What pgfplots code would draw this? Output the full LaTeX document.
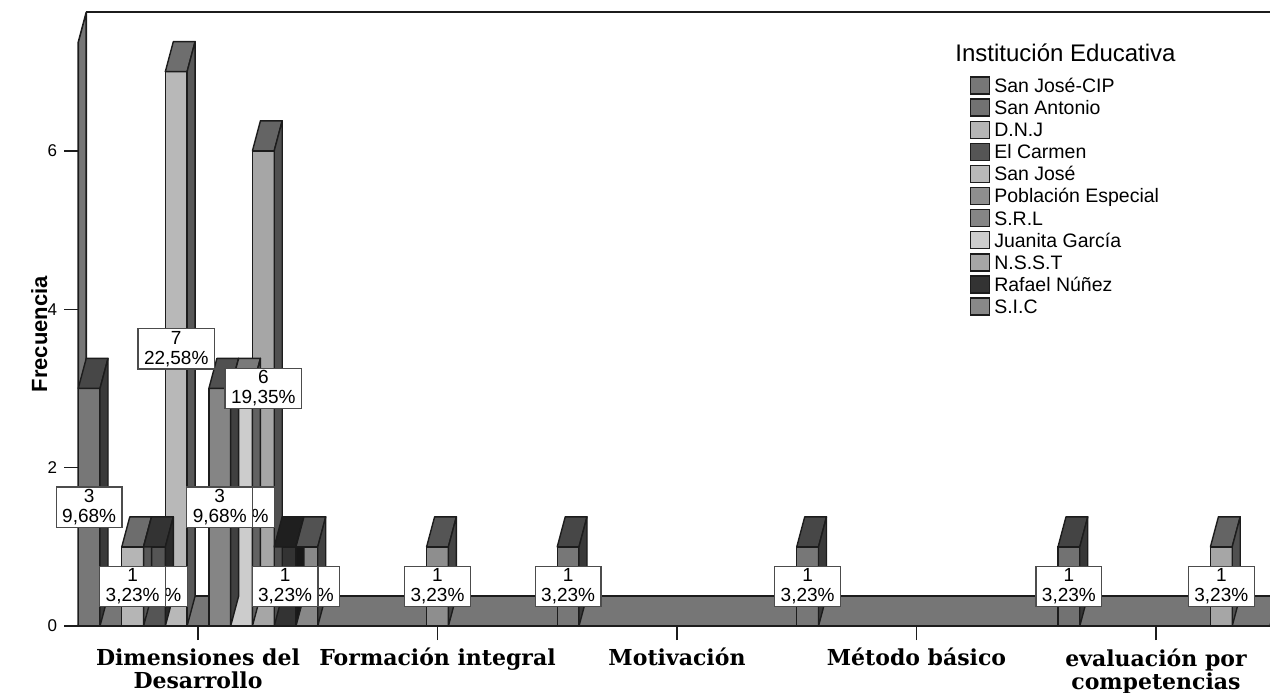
\documentclass[border=0pt]{standalone}
\usepackage{pgfplots}
\pgfplotsset{compat=1.18}
\usepackage{pgfplotstable}
\usepackage{fontspec}
\setmainfont{Liberation Sans}
\newfontfamily\catfont{DejaVu Serif}

% fill colours of the eleven institutions
\definecolor{cA}{HTML}{777777}
\definecolor{cB}{HTML}{727272}
\definecolor{cC}{HTML}{B5B5B5}
\definecolor{cD}{HTML}{555555}
\definecolor{cE}{HTML}{B8B8B8}
\definecolor{cF}{HTML}{8E8E8E}
\definecolor{cG}{HTML}{858585}
\definecolor{cH}{HTML}{CCCCCC}
\definecolor{cI}{HTML}{A6A6A6}
\definecolor{cJ}{HTML}{333333}
\definecolor{cK}{HTML}{888888}
\definecolor{floorgray}{HTML}{767676}
\definecolor{edge}{HTML}{1C1C1C}

% geometry of the 3-D bars
\def\hw{5.443pt}   % half bar width
\def\dx{4pt}       % depth offset, horizontal
\def\dy{15pt}      % depth offset, vertical
\def\yu{39.6pt}    % length of one count
\def\total{31}     % number of answers

% frequencies per institution (c = category index, v = count)
\pgfplotstableread{
c v
0 3
2 1
3 1
}\tA
\pgfplotstableread{
c v
4 1
}\tB
\pgfplotstableread{
c v
0 1
}\tC
\pgfplotstableread{
c v
0 1
}\tD
\pgfplotstableread{
c v
0 7
}\tE
\pgfplotstableread{
c v
1 1
}\tF
\pgfplotstableread{
c v
0 3
}\tG
\pgfplotstableread{
c v
0 3
}\tH
\pgfplotstableread{
c v
0 6
4 1
}\tI
\pgfplotstableread{
c v
0 1
}\tJ
\pgfplotstableread{
c v
0 1
}\tK

\pgfplotsset{
  /pgf/number format/assume math mode=true,
  front/.style={ybar, bar width=0.0909091, bar shift=0pt, fill=#1, draw=edge, line width=0.7pt,
    legend image code/.code={\draw[fill=#1, draw=edge, line width=0.7pt] (0pt,-2.9pt) rectangle (9.5pt,5.6pt);}},
  faces/.style={forget plot, only marks, scatter, mark=*, mark size=0pt,
    mark options={draw=none, fill=none},
    visualization depends on={\thisrow{v} \as \barv},
    scatter/@pre marker code/.code={%
      \pgfmathsetlengthmacro\hh{\barv*\yu}%
      \filldraw[fill=#1!60!black, draw=edge, line width=0.7pt, line join=round]
        (-\hw,0pt) -- (\hw,0pt) -- ++(\dx,\dy) -- ++(-2*\hw,0pt) -- cycle;
      \filldraw[fill=#1!48!black, draw=edge, line width=0.7pt, line join=round]
        (\hw,0pt) -- ++(\dx,\dy) -- ++(0pt,-\hh) -- ++(-\dx,-\dy) -- cycle;
    },
    scatter/@post marker code/.code={}},
  labelplot/.style={forget plot, draw=none, mark=none,
    visualization depends on={\thisrow{v} \as \cnt},
    nodes near coords={\pgfmathprintnumber{\cnt}\\\pgfmathparse{100*\cnt/\total}\pgfmathprintnumber[fixed,fixed zerofill,precision=2,use comma]{\pgfmathresult}\%},
    every node near coord/.style={anchor=center, align=center, fill=white, draw=black!70,
      line width=0.6pt, inner xsep=3pt, inner ysep=1.2pt,
      font=\fontsize{9.5}{10}\selectfont, text=black}},
}

% one institution: front faces, then top and side faces
\newcommand\barseries[4]{%
  \addplot[front=#3] table[x expr=\thisrow{c}-0.5+(#2+0.5)/11, y=v] {#1};
  \addlegendentry{#4}
  \addplot[faces=#3] table[x expr=\thisrow{c}-0.5+(#2+0.5)/11, y=v] {#1};
}
% value boxes at half height of each bar
\newcommand\barlabels[2]{%
  \addplot[labelplot] table[x expr=\thisrow{c}-0.5+(#2+0.5)/11, y expr=\thisrow{v}/2] {#1};
}

\begin{document}
\begin{tikzpicture}
\useasboundingbox (-39.125pt,-33pt) rectangle (595.875pt,313pt);
\begin{axis}[
  at={(0pt,0pt)}, anchor=south west,
  x=119.75pt, y=39.6pt,
  xmin=-0.5, xmax=4.476, ymin=0, ymax=7.37,
  clip=false,
  axis line style={draw=none},
  xtick={0,...,4}, ytick={0,2,4,6},
  xticklabels={{Dimensiones del\\Desarrollo},{Formación integral},{Motivación},{Método básico},{evaluación por\\competencias}},
  tick pos=left, tick align=outside,
  major tick length=7pt,
  tick style={edge, line width=0.7pt},
  xticklabel style={align=center, font=\catfont\bfseries\fontsize{11}{11.5}\selectfont, inner sep=0pt, yshift=-4pt},
  yticklabel style={font=\fontsize{8.5}{9}\selectfont},
  ylabel={Frecuencia},
  ylabel style={at={(axis description cs:-0.0327,0.5)}, anchor=center, font=\bfseries\fontsize{11}{13}\selectfont},
  legend style={at={(axis cs:3.223,6.94)}, anchor=north west, draw=none, fill=none,
    inner sep=0pt, outer sep=0pt, row sep=0pt, font=\fontsize{9.75}{11}\selectfont,
    nodes={inner ysep=0pt, inner xsep=2pt, text height=7.2pt, text depth=3pt}},
  legend cell align=left,
]
% floor and left wall of the box
\filldraw[fill=floorgray, draw=edge, line width=0.8pt, line join=round]
  (axis cs:-0.5,0) -- (axis cs:4.476,0) -- ++(\dx,\dy) -- ([shift={(\dx,\dy)}]axis cs:-0.5,0) -- cycle;
\filldraw[fill=floorgray, draw=edge, line width=0.8pt, line join=round]
  (axis cs:-0.5,0) -- (axis cs:-0.5,7.37) -- ++(\dx,\dy) -- ([shift={(\dx,\dy)}]axis cs:-0.5,0) -- cycle;
\draw[edge, line width=1pt] ([shift={(\dx,\dy)}]axis cs:-0.5,7.37) -- ([shift={(\dx,\dy)}]axis cs:4.476,7.37);

\barseries{\tA}{0}{cA}{San José-CIP}
\barseries{\tB}{1}{cB}{San Antonio}
\barseries{\tC}{2}{cC}{D.N.J}
\barseries{\tD}{3}{cD}{El Carmen}
\barseries{\tE}{4}{cE}{San José}
\barseries{\tF}{5}{cF}{Población Especial}
\barseries{\tG}{6}{cG}{S.R.L}
\barseries{\tH}{7}{cH}{Juanita García}
\barseries{\tI}{8}{cI}{N.S.S.T}
\barseries{\tJ}{9}{cJ}{Rafael Núñez}
\barseries{\tK}{10}{cK}{S.I.C}

\barlabels{\tK}{10}
\barlabels{\tJ}{9}
\barlabels{\tI}{8}
\barlabels{\tH}{7}
\barlabels{\tG}{6}
\barlabels{\tF}{5}
\barlabels{\tE}{4}
\barlabels{\tD}{3}
\barlabels{\tC}{2}
\barlabels{\tB}{1}
\barlabels{\tA}{0}

\node[anchor=base west, font=\fontsize{12}{14}\selectfont, inner sep=0pt] at (axis cs:3.161,7.128) {Institución Educativa};
\end{axis}
\end{tikzpicture}
\end{document}
